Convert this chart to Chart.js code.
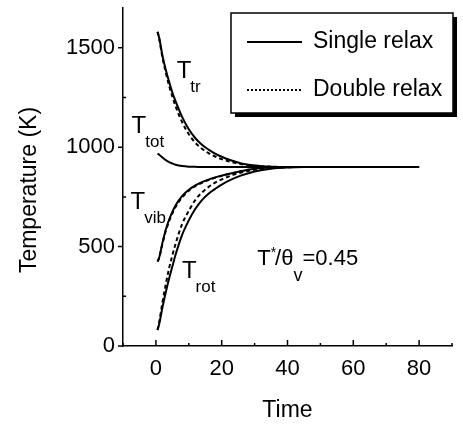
<!DOCTYPE html>
<html>
<head>
<meta charset="utf-8">
<script src="https://cdn.jsdelivr.net/npm/chart.js@4"></script>
<style>
  html, body { margin: 0; padding: 0; background: #fff; }
  #wrap { width: 463px; height: 424px; }
</style>
</head>
<body>
<div id="wrap"><canvas id="grafica" width="463" height="424"></canvas></div>
<script>
// datos
const tiempo = [0.5, 1, 2, 3, 4, 5, 6, 8, 10, 12, 14, 16, 18, 20, 23, 26, 30, 35, 40, 45, 50, 60, 70, 80];

const trSingle  = [1580, 1550, 1460, 1390, 1330, 1275, 1230, 1151, 1090, 1045, 1012, 988, 968, 952, 933, 918, 908, 902, 900, 900, 900, 900, 900, 900];
const trDouble  = [1580, 1545, 1450, 1375, 1310, 1255, 1205, 1125, 1065, 1022, 992, 970, 953, 940, 925, 914, 906, 902, 900, 900, 900, 900, 900, 900];
const totSingle = [968, 962, 948, 935, 925, 918, 912, 905, 902, 901, 900, 900, 900, 900, 900, 900, 900, 900, 900, 900, 900, 900, 900, 900];
const vibSingle = [425, 445, 520, 585, 635, 675, 708, 755, 786, 808, 824, 837, 848, 857, 869, 880, 892, 898, 900, 900, 900, 900, 900, 900];
const vibDouble = [425, 443, 515, 578, 627, 667, 700, 748, 781, 804, 821, 835, 846, 856, 868, 879, 891, 898, 900, 900, 900, 900, 900, 900];
const rotSingle = [80, 110, 195, 270, 338, 400, 460, 560, 632, 690, 734, 766, 790, 812, 838, 858, 878, 892, 898, 900, 900, 900, 900, 900];
const rotDouble = [80, 120, 220, 310, 390, 455, 515, 615, 680, 735, 772, 800, 822, 838, 858, 873, 887, 896, 899, 900, 900, 900, 900, 900];

const xTicks = [0, 20, 40, 60, 80];
const yTicks = [0, 500, 1000, 1500];
const xMinor = [-10, 10, 30, 50, 70, 90];
const yMinor = [250, 750, 1250];

const leyenda = ['Single relax', 'Double relax'];
const etiquetas = [
  { t: 'T', sub: 'tr', x: 6.3, y: 1350 },
  { t: 'T', sub: 'tot', x: -7.4, y: 1069 },
  { t: 'T', sub: 'vib', x: -7.7, y: 687 },
  { t: 'T', sub: 'rot', x: 7.9, y: 340 }
];
const nota = { x: 30.8, y: 405 };

const FONT = '"Liberation Sans", Arial, sans-serif';

function serie(valores, doble) {
  return {
    data: tiempo.map((t, i) => ({ x: t, y: valores[i] })),
    borderColor: '#000',
    borderWidth: 2,
    borderDash: doble ? [4, 3] : [],
    pointRadius: 0,
    fill: false,
    cubicInterpolationMode: 'monotone'
  };
}

const extras = {
  id: 'extras',
  afterDraw(chart) {
    const { ctx, chartArea: a, scales: { x, y } } = chart;
    ctx.save();
    ctx.fillStyle = '#000';
    ctx.strokeStyle = '#000';

    // marcas de los ejes
    ctx.lineWidth = 1.5;
    ctx.beginPath();
    xTicks.forEach(v => { const px = x.getPixelForValue(v); ctx.moveTo(px, a.bottom); ctx.lineTo(px, a.bottom - 6); });
    xMinor.forEach(v => { const px = x.getPixelForValue(v); ctx.moveTo(px, a.bottom); ctx.lineTo(px, a.bottom - 3); });
    yTicks.forEach(v => { const py = y.getPixelForValue(v); ctx.moveTo(a.left, py); ctx.lineTo(a.left - 5, py); });
    yMinor.forEach(v => { const py = y.getPixelForValue(v); ctx.moveTo(a.left, py); ctx.lineTo(a.left + 3, py); });
    ctx.stroke();

    // titulos de ejes
    ctx.font = '23px ' + FONT;
    ctx.textAlign = 'center';
    ctx.textBaseline = 'middle';
    ctx.fillText('Time', (a.left + a.right) / 2, 411);
    ctx.save();
    ctx.translate(30, 190);
    ctx.rotate(-Math.PI / 2);
    ctx.fillText('Temperature (K)', 0, 0);
    ctx.restore();

    // etiquetas de curvas
    ctx.textAlign = 'left';
    ctx.textBaseline = 'alphabetic';
    etiquetas.forEach(e => {
      const px = x.getPixelForValue(e.x);
      const py = y.getPixelForValue(e.y);
      ctx.font = '24px ' + FONT;
      ctx.fillText(e.t, px, py);
      const w = ctx.measureText(e.t).width;
      ctx.font = '17px ' + FONT;
      ctx.fillText(e.sub, px + w - 1, py + 14);
    });

    // T*/theta_v = 0.45
    let px = x.getPixelForValue(nota.x);
    const py = y.getPixelForValue(nota.y);
    ctx.font = '22px ' + FONT;
    ctx.fillText('T', px, py);
    px += ctx.measureText('T').width;
    ctx.font = '14px ' + FONT;
    ctx.fillText('*', px, py - 8);
    px += ctx.measureText('*').width - 1;
    ctx.font = '22px ' + FONT;
    ctx.fillText('/\u03B8', px, py);
    px += ctx.measureText('/\u03B8').width;
    ctx.font = '18px ' + FONT;
    ctx.fillText('v', px, py + 16);
    px += ctx.measureText('v').width;
    ctx.font = '22px ' + FONT;
    ctx.fillText('=0.45', px, py);

    // leyenda
    const bx = a.right - 221, by = a.top + 5, bw = 222, bh = 100;
    ctx.fillRect(bx + 4, by + 4, bw, bh);
    ctx.fillStyle = '#fff';
    ctx.fillRect(bx, by, bw, bh);
    ctx.lineWidth = 1.5;
    ctx.strokeRect(bx, by, bw, bh);
    ctx.fillStyle = '#000';
    ctx.lineWidth = 2;
    ctx.font = '23px ' + FONT;
    leyenda.forEach((txt, i) => {
      const ly = by + 29 + i * 48;
      ctx.setLineDash(i === 0 ? [] : [2, 2]);
      ctx.beginPath();
      ctx.moveTo(bx + 16, ly);
      ctx.lineTo(bx + 71, ly);
      ctx.stroke();
      ctx.setLineDash([]);
      ctx.textBaseline = 'middle';
      ctx.fillText(txt, bx + 82, ly);
    });
    ctx.restore();
  }
};

const ctx = document.getElementById('grafica').getContext('2d');
const chart = new Chart(ctx, {
  type: 'line',
  data: {
    datasets: [
      serie(trSingle, false),
      serie(trDouble, true),
      serie(totSingle, false),
      serie(vibSingle, false),
      serie(vibDouble, true),
      serie(rotSingle, false),
      serie(rotDouble, true)
    ]
  },
  options: {
    responsive: false,
    animation: false,
    layout: { padding: { top: 8, right: 11, left: 0, bottom: 0 } },
    plugins: { legend: { display: false }, tooltip: { enabled: false } },
    scales: {
      x: {
        type: 'linear',
        min: -10,
        max: 90,
        grid: { display: false, drawTicks: false },
        border: { color: '#000', width: 1.5 },
        ticks: { color: '#000', font: { family: FONT, size: 22 }, padding: 10, maxRotation: 0, callback: v => String(v) },
        afterBuildTicks: s => { s.ticks = xTicks.map(v => ({ value: v })); },
        afterFit: s => { s.height = 78; s.paddingLeft = 0; s.paddingRight = 0; }
      },
      y: {
        min: 0,
        max: 1700,
        grid: { display: false, drawTicks: false },
        border: { color: '#000', width: 1.5 },
        ticks: { color: '#000', font: { family: FONT, size: 22 }, padding: 8, callback: v => String(v) },
        afterBuildTicks: s => { s.ticks = yTicks.map(v => ({ value: v })); },
        afterFit: s => { s.width = 123; s.paddingTop = 0; s.paddingBottom = 0; }
      }
    }
  },
  plugins: [extras]
});
</script>
</body>
</html>
